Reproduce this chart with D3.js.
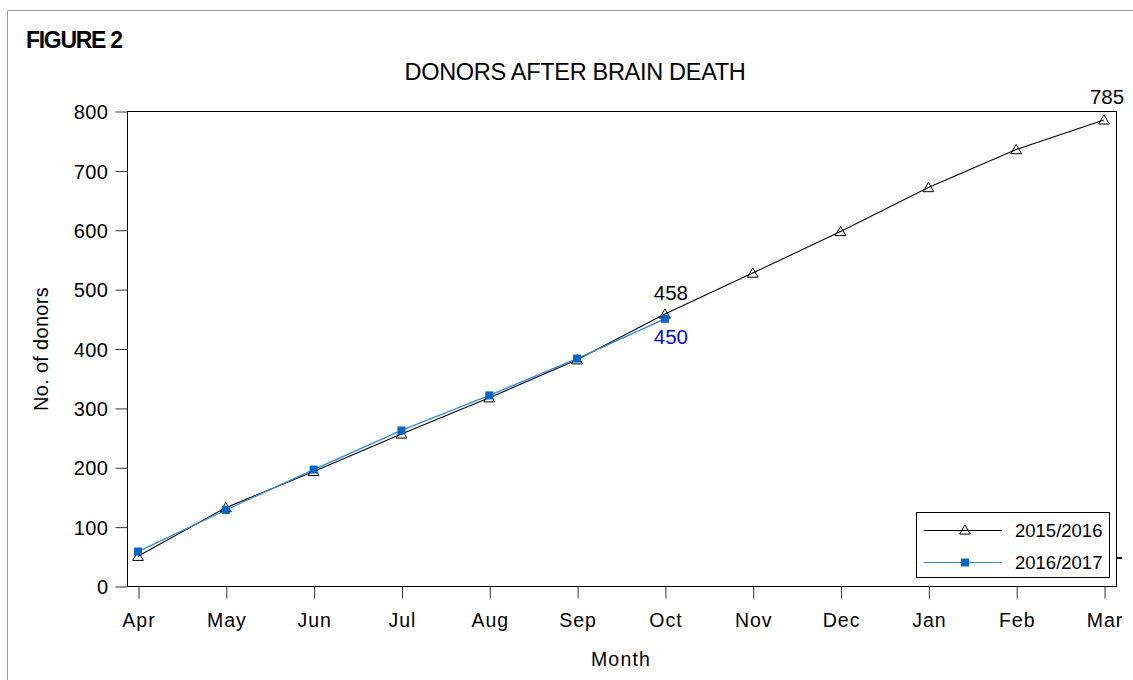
<!DOCTYPE html>
<html><head><meta charset="utf-8">
<script src="https://cdn.jsdelivr.net/npm/d3@7"></script>
<style>body{margin:0;background:#fff}svg{display:block}text{font-family:"Liberation Sans",Arial,sans-serif}</style>
</head><body>
<script>
const months = ["Apr","May","Jun","Jul","Aug","Sep","Oct","Nov","Dec","Jan","Feb","Mar"];
const series2015 = [50,132,193,256,317,381,458,527,597,671,735,785];
const series2016 = [58,128,196,262,321,383,450];
const yTicks = [0,100,200,300,400,500,600,700,800];
const seriesNames = ["2015/2016","2016/2017"];

const W=1133,H=680;
const svg=d3.select("body").append("svg").attr("width",W).attr("height",H);
svg.append("path").attr("d","M7.5,680 V10.5 H1133").attr("fill","none").attr("stroke","#999").attr("stroke-width",1);

const L=127,R=1116,T=111,B=586;
const x=d3.scalePoint().domain(months).range([138,1104]);
const y=d3.scaleLinear().domain([0,800]).range([B,T]);

svg.append("text").attr("x",26).attr("y",48).attr("font-size",23).attr("font-weight","bold").attr("letter-spacing",-1.3).text("FIGURE 2");
svg.append("text").attr("x",575).attr("y",80).attr("text-anchor","middle").attr("font-size",23.5).attr("letter-spacing",-0.3).attr("fill","#000").text("DONORS AFTER BRAIN DEATH");

svg.append("rect").attr("x",L+0.5).attr("y",T+0.5).attr("width",R-L).attr("height",B-T).attr("fill","none").attr("stroke","#000").attr("stroke-width",1);

const ya=svg.append("g").attr("transform",`translate(${L+0.5},0.5)`).call(d3.axisLeft(y).tickValues(yTicks).tickSize(12).tickPadding(7));
ya.select(".domain").remove();
ya.selectAll("text").attr("font-size",20).attr("font-family","Liberation Sans, Arial, sans-serif").attr("fill","#000").attr("dy","0.36em").attr("letter-spacing",0.5);
ya.selectAll("line").attr("stroke","#333");
const xa=svg.append("g").attr("transform",`translate(0.5,${B+0.5})`).call(d3.axisBottom(x).tickSize(12).tickPadding(15));
xa.select(".domain").remove();
xa.selectAll("text").attr("font-size",19.5).attr("font-family","Liberation Sans, Arial, sans-serif").attr("fill","#000").attr("letter-spacing",1);
xa.selectAll("line").attr("stroke","#333");

svg.append("text").attr("x",621).attr("y",666).attr("text-anchor","middle").attr("font-size",19.5).attr("letter-spacing",1.2).text("Month");
svg.append("text").attr("transform","translate(48,349) rotate(-90)").attr("text-anchor","middle").attr("font-size",20).attr("letter-spacing",0.3).text("No. of donors");

svg.append("line").attr("x1",R).attr("x2",R+6).attr("y1",558).attr("y2",558).attr("stroke","#000").attr("stroke-width",2);

const line=d3.line().x((d,i)=>x(months[i])).y(d=>y(d));
svg.append("path").datum(series2015).attr("d",line).attr("fill","none").attr("stroke","#000").attr("stroke-width",1.1);
svg.append("path").datum(series2016).attr("d",line).attr("fill","none").attr("stroke","#2a8ae6").attr("stroke-width",1.3);

const tri=d3.symbol().type(d3.symbolTriangle).size(50);
svg.selectAll(".t").data(series2015).enter().append("path").attr("d",tri)
 .attr("transform",(d,i)=>`translate(${x(months[i])},${y(d)+1})`).attr("fill","none").attr("stroke","#000").attr("stroke-width",1);
svg.selectAll(".s").data(series2016).enter().append("rect")
 .attr("x",(d,i)=>x(months[i])-4).attr("y",d=>y(d)-4).attr("width",8).attr("height",8).attr("fill","#0066cc");

svg.append("text").attr("x",x("Oct")+6).attr("y",300).attr("text-anchor","middle").attr("font-size",20.5).text(series2015[6]);
svg.append("text").attr("x",x("Oct")+6).attr("y",344).attr("text-anchor","middle").attr("font-size",20.5).attr("fill","#0000ff").text(series2016[6]);
svg.append("text").attr("x",1107).attr("y",104).attr("text-anchor","middle").attr("font-size",20.5).text(series2015[11]);

const lg=svg.append("g");
lg.append("rect").attr("x",916.5).attr("y",512.5).attr("width",193).attr("height",65).attr("fill","#fff").attr("stroke","#000");
const rows=[{n:seriesNames[0],c:"#000",yy:530},{n:seriesNames[1],c:"#2a8ae6",yy:562}];
rows.forEach((r,i)=>{
  lg.append("line").attr("x1",924).attr("x2",1002).attr("y1",r.yy+0.5).attr("y2",r.yy+0.5).attr("stroke",r.c).attr("stroke-width",1);
  if(i===0) lg.append("path").attr("d",tri).attr("transform",`translate(965,${r.yy+1})`).attr("fill","none").attr("stroke","#000");
  else lg.append("rect").attr("x",961).attr("y",r.yy-3.5).attr("width",8).attr("height",8).attr("fill","#0066cc");
  lg.append("text").attr("x",1015).attr("y",r.yy+6.5).attr("font-size",18.5).text(r.n);
});
</script>
</body></html>
